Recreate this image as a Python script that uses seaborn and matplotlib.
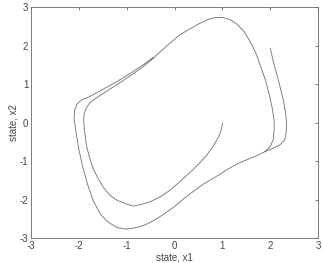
import matplotlib
matplotlib.use("Agg")
import matplotlib.pyplot as plt
import seaborn as sns
import pandas as pd

# Trajectory 1: starts at (1, 0) and spirals out onto the limit cycle
traj1_x1 = [1.00, 0.99, 0.96, 0.90, 0.80, 0.67, 0.50, 0.30, 0.10, -0.10, -0.30, -0.50, -0.70, -0.86,
            -1.00, -1.20, -1.34, -1.48, -1.60, -1.70, -1.78, -1.84, -1.88, -1.90, -1.89, -1.85,
            -1.78, -1.66, -1.50, -1.30, -1.10, -0.90, -0.70, -0.50, -0.30, -0.10, 0.10, 0.30,
            0.50, 0.70, 0.85, 1.00, 1.15, 1.30, 1.45, 1.58, 1.70, 1.80, 1.90, 1.98, 2.04, 2.08,
            2.08, 2.06, 2.00, 1.88, 1.70, 1.50, 1.30, 1.10, 0.90, 0.60, 0.40, 0.20, 0.00, -0.20,
            -0.40, -0.60, -0.80, -1.00, -1.20, -1.40, -1.55, -1.70, -1.82, -1.92, -2.00, -2.06,
            -2.10, -2.09, -2.04, -1.94, -1.80, -1.62, -1.40, -1.20, -1.00, -0.80, -0.60, -0.45]
traj1_x2 = [0.00, -0.10, -0.25, -0.42, -0.62, -0.85, -1.08, -1.32, -1.55, -1.76, -1.93, -2.05, -2.13, -2.17,
            -2.12, -2.02, -1.90, -1.70, -1.45, -1.20, -0.90, -0.60, -0.25, 0.05, 0.22, 0.37,
            0.50, 0.62, 0.75, 0.91, 1.07, 1.24, 1.41, 1.61, 1.84, 2.06, 2.27, 2.42,
            2.56, 2.68, 2.73, 2.73, 2.68, 2.56, 2.37, 2.10, 1.80, 1.45, 1.10, 0.72, 0.38, 0.05,
            -0.20, -0.45, -0.62, -0.76, -0.87, -0.97, -1.08, -1.22, -1.38, -1.60, -1.78, -1.97, -2.18, -2.36,
            -2.52, -2.65, -2.73, -2.77, -2.73, -2.58, -2.38, -2.03, -1.60, -1.15, -0.70, -0.25,
            0.10, 0.32, 0.48, 0.59, 0.66, 0.78, 0.93, 1.07, 1.22, 1.38, 1.55, 1.69]

# Trajectory 2: starts at (2, 2) and converges onto the limit cycle
traj2_x1 = [2.00, 2.06, 2.13, 2.20, 2.27, 2.32, 2.34, 2.33, 2.30, 2.20, 2.05, 1.88]
traj2_x2 = [1.93, 1.60, 1.28, 0.95, 0.59, 0.25, -0.02, -0.28, -0.45, -0.58, -0.67, -0.76]

ticks = [-3, -2, -1, 0, 1, 2, 3]
tick_labels = ["-3", "-2", "-1", "0", "1", "2", "3"]

sns.set_style("white")
plt.rcParams['font.family'] = ['Liberation Sans', 'DejaVu Sans']

df1 = pd.DataFrame({"x1": traj1_x1, "x2": traj1_x2})
df2 = pd.DataFrame({"x1": traj2_x1, "x2": traj2_x2})

fig = plt.figure(figsize=(3.23, 2.63), dpi=100)
ax = fig.add_axes([0.096, 0.095, 0.889, 0.878])
line_kw = dict(sort=False, estimator=None, ax=ax, color="#6e6e6e", linewidth=0.6)
sns.lineplot(data=df1, x="x1", y="x2", **line_kw)
sns.lineplot(data=df2, x="x1", y="x2", **line_kw)

ax.set_xlim(-3, 3)
ax.set_ylim(-3, 3)
ax.set_xticks(ticks)
ax.set_xticklabels(tick_labels)
ax.set_yticks(ticks)
ax.set_yticklabels(tick_labels)
ax.tick_params(direction="in", length=2.5, width=0.5, labelsize=7, top=True, right=True,
               colors="#444444", pad=2)
for s in ax.spines.values():
    s.set_linewidth(0.6)
    s.set_color("#666666")
ax.set_xlabel("state, x1", fontsize=7, color="#444444", labelpad=1)
ax.set_ylabel("state, x2", fontsize=7, color="#444444", labelpad=1)

fig.savefig("out.png", dpi=100)
